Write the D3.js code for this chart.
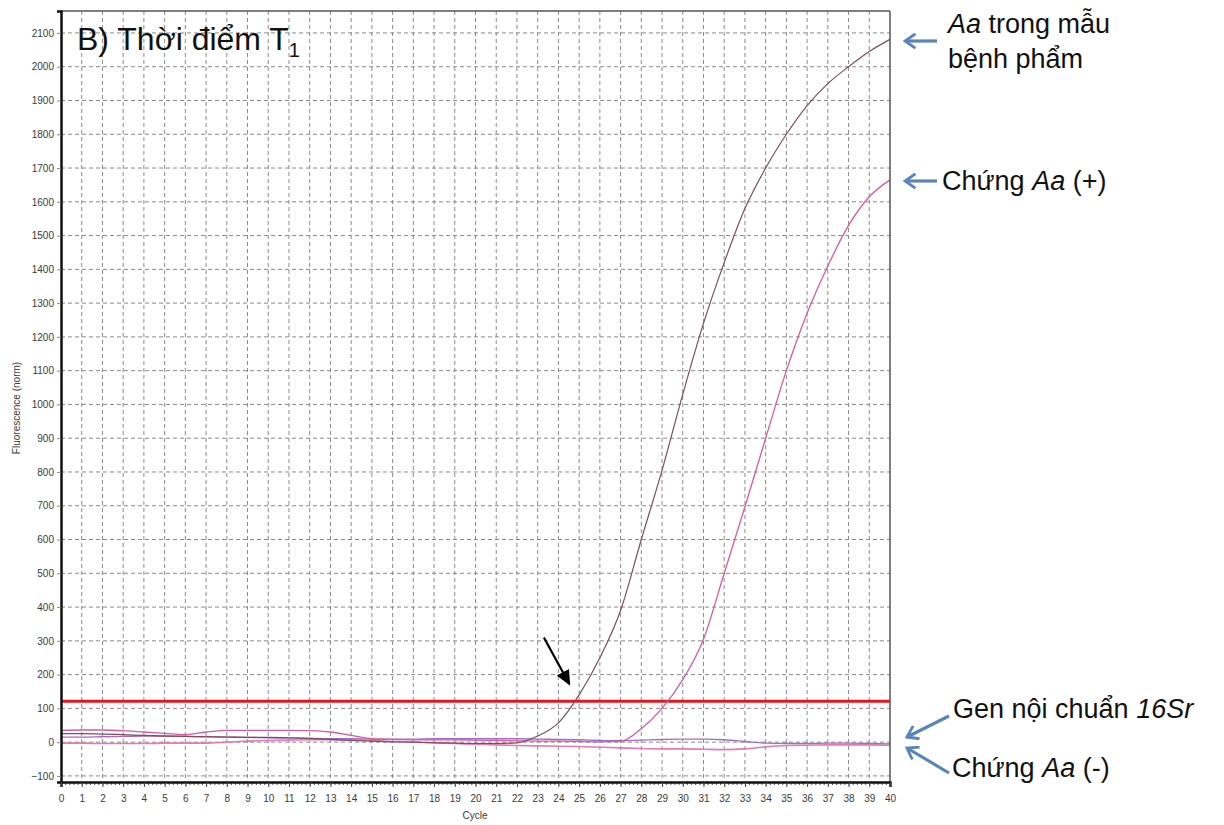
<!DOCTYPE html>
<html>
<head>
<meta charset="utf-8">
<script src="https://cdn.jsdelivr.net/npm/d3@7"></script>
<style>
  body { margin: 0; background: #fff; }
  svg { display: block; font-family: "Liberation Sans", Arial, sans-serif; }
</style>
</head>
<body>
<svg id="chart" width="1224" height="825"></svg>
<script>
// cycles 0..40
const cycles = d3.range(0, 41);

// Aa trong mẫu bệnh phẩm (dark curve)
const sampleAa = [25, 25, 24, 22, 20, 18, 17, 16, 15, 14, 14, 13, 11, 8, 5, 3, 1, 0, -2, -3,
  -4, -4, -2, 18, 57, 140, 250, 390, 600, 805, 1030, 1240, 1420, 1580, 1700, 1800, 1885, 1950, 2000, 2045, 2081];

// Chứng Aa (+)
const posControl = [35, 36, 36, 34, 30, 26, 22, 30, 35, 35, 35, 35, 34, 30, 20, 10, 8, 7, 7, 7,
  6, 5, 4, 3, 3, 2, 1, 2, 40, 100, 185, 305, 500, 697, 900, 1100, 1270, 1410, 1530, 1615, 1665];

// Chứng Aa (-)
const negControl = [-3, -3, -4, -4, -4, -3, -3, -3, 0, 3, 5, 6, 7, 7, 6, 4, 2, 0, -2, -4,
  -6, -8, -10, -11, -12, -13, -15, -17, -19, -20, -20, -21, -22, -20, -14, -10, -9, -8, -8, -8, -9];

// Gen nội chuẩn 16Sr
const gene16Sr = [15, 15, 16, 17, 18, 18, 17, 16, 15, 14, 13, 12, 11, 10, 10, 9, 9, 9, 10, 10,
  10, 10, 10, 9, 8, 7, 5, 4, 6, 8, 9, 9, 7, 2, -3, -4, -4, -3, -3, -4, -5];

const threshold = 121;
const yTicks = d3.range(-100, 2101, 100);
const xTicks = d3.range(0, 41, 1);

const series = [
  { name: "neg", values: negControl, color: "#e27bb4", width: 1.6 },
  { name: "16Sr", values: gene16Sr, color: "#a26cc6", width: 1.4 },
  { name: "pos", values: posControl, color: "#d85a9e", width: 1.3 },
  { name: "sample", values: sampleAa, color: "#7c4e5e", width: 1.2 },
];

const svg = d3.select("#chart");
const plotL = 61, plotR = 890, plotT = 11, plotB = 782;

const x = d3.scaleLinear().domain([0, 40]).range([plotL, plotR]);
const y = d3.scaleLinear().domain([-118, 2165]).range([plotB, plotT]);

// grid
const grid = svg.append("g");
grid.selectAll(".hg").data(yTicks).join("line")
  .attr("x1", plotL).attr("x2", plotR)
  .attr("y1", d => y(d)).attr("y2", d => y(d))
  .attr("stroke", "#8a8a8a").attr("stroke-width", 1).attr("stroke-dasharray", "4,3");
grid.selectAll(".vg").data(xTicks.slice(1, -1)).join("line")
  .attr("x1", d => x(d)).attr("x2", d => x(d))
  .attr("y1", plotT).attr("y2", plotB)
  .attr("stroke", "#8a8a8a").attr("stroke-width", 1).attr("stroke-dasharray", "4,3");

// threshold
svg.append("line")
  .attr("x1", plotL).attr("x2", plotR)
  .attr("y1", y(threshold)).attr("y2", y(threshold))
  .attr("stroke", "#e3161d").attr("stroke-width", 3);

// curves
const line = d3.line().x((d, i) => x(cycles[i])).y(d => y(d)).curve(d3.curveMonotoneX);
svg.append("g").selectAll("path").data(series).join("path")
  .attr("d", d => line(d.values))
  .attr("fill", "none")
  .attr("stroke", d => d.color)
  .attr("stroke-width", d => d.width);

// frame
svg.append("line").attr("x1", plotL).attr("x2", plotR).attr("y1", plotT).attr("y2", plotT)
  .attr("stroke", "#555").attr("stroke-width", 1.5);
svg.append("line").attr("x1", plotR).attr("x2", plotR).attr("y1", plotT).attr("y2", plotB)
  .attr("stroke", "#555").attr("stroke-width", 1.5);

// axes
const yAxis = d3.axisLeft(y).tickValues(yTicks).tickFormat(d3.format("d")).tickSize(4).tickPadding(3);
svg.append("g").attr("transform", `translate(${plotL},0)`).call(yAxis)
  .call(g => g.select(".domain").attr("stroke", "#111").attr("stroke-width", 2.5))
  .call(g => g.selectAll(".tick line").attr("stroke", "#888"))
  .call(g => g.selectAll("text").attr("fill", "#3a3a3a").style("font-size", "10px"));

const xMinor = d3.axisBottom(x).ticks(200).tickSize(3).tickFormat("");
svg.append("g").attr("transform", `translate(0,${plotB})`).call(xMinor)
  .call(g => g.select(".domain").remove())
  .call(g => g.selectAll(".tick line").attr("stroke", "#555"));

const xAxis = d3.axisBottom(x).tickValues(xTicks).tickSize(5).tickPadding(8);
svg.append("g").attr("transform", `translate(0,${plotB})`).call(xAxis)
  .call(g => g.select(".domain").attr("stroke", "#111").attr("stroke-width", 2.5))
  .call(g => g.selectAll(".tick line").attr("stroke", "#444"))
  .call(g => g.selectAll("text").attr("fill", "#3a3a3a").style("font-size", "10px"));

svg.append("text").attr("x", 475).attr("y", 819)
  .attr("text-anchor", "middle").attr("fill", "#3a3a3a").style("font-size", "10px").text("Cycle");
svg.append("text").attr("transform", "translate(20,408) rotate(-90)")
  .attr("text-anchor", "middle").attr("fill", "#3a3a3a").style("font-size", "10px")
  .text("Fluorescence (norm)");

// title
const title = svg.append("text").attr("x", 77).attr("y", 50).attr("fill", "#111")
  .style("font-size", "32px");
title.append("tspan").text("B) Thời điểm T");
title.append("tspan").attr("dy", 7).style("font-size", "20px").text("1");

// annotations
const blue = "#5a85b8";
const defs = svg.append("defs");
defs.append("marker").attr("id", "blk").attr("viewBox", "0 0 10 10")
  .attr("refX", 8).attr("refY", 5).attr("markerWidth", 7).attr("markerHeight", 7)
  .attr("orient", "auto")
  .append("path").attr("d", "M0,0.5L10,5L0,9.5z").attr("fill", "#000");
defs.append("marker").attr("id", "blu").attr("viewBox", "0 0 10 10")
  .attr("refX", 8.5).attr("refY", 5).attr("markerWidth", 5).attr("markerHeight", 5)
  .attr("orient", "auto")
  .append("path").attr("d", "M2,0.5L8.5,5L2,9.5").attr("fill", "none")
  .attr("stroke", blue).attr("stroke-width", 1.8);

// arrow pointing at threshold crossing
svg.append("line")
  .attr("x1", x(23.3)).attr("y1", y(310))
  .attr("x2", x(24.5)).attr("y2", y(175))
  .attr("stroke", "#000").attr("stroke-width", 2.2).attr("marker-end", "url(#blk)");

const notes = [
  { lines: [[["Aa", true], [" trong mẫu", false]], [["bệnh phẩm", false]]], tx: 948, ty: 33, from: [937, 41], to: [905, 41] },
  { lines: [[["Chứng ", false], ["Aa", true], [" (+)", false]]], tx: 942, ty: 190, from: [937, 181], to: [905, 181] },
  { lines: [[["Gen nội chuẩn ", false], ["16Sr", true]]], tx: 953, ty: 718, from: [949, 716], to: [907, 737] },
  { lines: [[["Chứng ", false], ["Aa", true], [" (-)", false]]], tx: 952, ty: 777, from: [949, 773], to: [907, 748] },
];

notes.forEach(n => {
  svg.append("line")
    .attr("x1", n.from[0]).attr("y1", n.from[1])
    .attr("x2", n.to[0]).attr("y2", n.to[1])
    .attr("stroke", blue).attr("stroke-width", 3.2).attr("marker-end", "url(#blu)");
  n.lines.forEach((parts, i) => {
    const t = svg.append("text").attr("x", n.tx).attr("y", n.ty + i * 35)
      .attr("fill", "#111").style("font-size", "27px");
    parts.forEach(p => t.append("tspan").style("font-style", p[1] ? "italic" : "normal").text(p[0]));
  });
});
</script>
</body>
</html>
